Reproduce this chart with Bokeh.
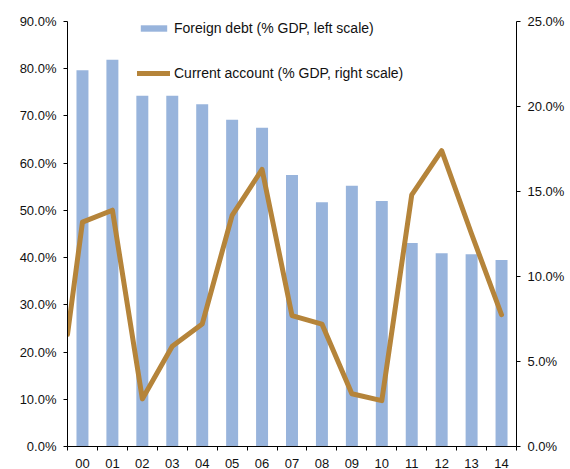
from bokeh.plotting import figure
from bokeh.models import Range1d, LinearAxis, FixedTicker, PrintfTickFormatter, Legend, LegendItem
from bokeh.embed import file_html
from bokeh.resources import INLINE

years = ["00", "01", "02", "03", "04", "05", "06", "07", "08", "09", "10", "11", "12", "13", "14"]
foreign_debt = [79.7, 81.9, 74.3, 74.3, 72.5, 69.2, 67.5, 57.5, 51.7, 55.2, 52.0, 43.1, 40.9, 40.7, 39.5]
current_account = [13.2, 13.9, 2.8, 5.9, 7.2, 13.6, 16.3, 7.7, 7.2, 3.1, 2.7, 14.8, 17.4, 12.5, 7.75]
current_account_at_axis_start = 6.6  # value where the line meets the left axis

left_ticks = [0, 10, 20, 30, 40, 50, 60, 70, 80, 90]
right_ticks = [0, 5, 10, 15, 20, 25]

FONT = "Liberation Sans"
BAR = "#98B4DC"
LINE = "#B5843A"

idx = list(range(len(years)))
x0 = -0.5
x1 = len(years) - 0.5

FW, FH = 449, 425
p = figure(frame_width=FW, frame_height=FH, output_backend="svg", toolbar_location=None,
           x_range=Range1d(x0, x1), y_range=Range1d(0, 90),
           min_border_left=67, min_border_top=21, min_border_right=53, min_border_bottom=0,
           outline_line_color=None)
p.xgrid.visible = False
p.ygrid.visible = False
p.extra_y_ranges = {"right": Range1d(0, 25)}

bars = p.vbar(x=idx, top=foreign_debt, width=0.4, fill_color=BAR, line_color=None)
line = p.line(x=[x0] + idx, y=[current_account_at_axis_start] + current_account, y_range_name="right",
              line_color=LINE, line_width=5, line_join="round", line_cap="round")

# x axis: labels centered under bars, tick marks between categories
xa = p.xaxis[0]
xa.ticker = FixedTicker(ticks=idx, minor_ticks=[i - 0.5 for i in idx] + [x1])
xa.major_label_overrides = {i: y for i, y in zip(idx, years)}
xa.major_tick_out = 0
xa.major_tick_in = 0
xa.minor_tick_out = 4
xa.minor_tick_in = 0
xa.minor_tick_line_color = "black"
xa.major_label_standoff = 8

ya = p.yaxis[0]
ya.ticker = FixedTicker(ticks=left_ticks)
ya.formatter = PrintfTickFormatter(format="%.1f%%")
ya.major_tick_out = 4
ya.major_tick_in = 0
ya.minor_tick_out = 0
ya.minor_tick_in = 0
ya.major_label_standoff = 7

ra = LinearAxis(y_range_name="right", ticker=FixedTicker(ticks=right_ticks),
                formatter=PrintfTickFormatter(format="%.1f%%"))
ra.major_tick_out = 4
ra.major_tick_in = 0
ra.minor_tick_out = 0
ra.minor_tick_in = 0
ra.major_label_standoff = 7
p.add_layout(ra, "right")

for ax in [xa, ya, ra]:
    ax.major_label_text_font = FONT
    ax.major_label_text_font_size = "13px"
    ax.major_label_text_color = "#111111"
    ax.axis_line_color = "black"
    ax.major_tick_line_color = "black"

legend = Legend(items=[LegendItem(label="Foreign debt (% GDP, left scale)", renderers=[bars]),
                       LegendItem(label="Current account (% GDP, right scale)", renderers=[line])],
                location=(70, FH - 60), orientation="vertical",
                glyph_width=33, glyph_height=8, label_height=8, spacing=29,
                padding=0, margin=0, label_standoff=4,
                border_line_color=None, background_fill_alpha=0,
                label_text_font=FONT, label_text_font_size="14px", label_text_color="#111111")
p.add_layout(legend)

open("out.html", "w").write(file_html(p, INLINE))
